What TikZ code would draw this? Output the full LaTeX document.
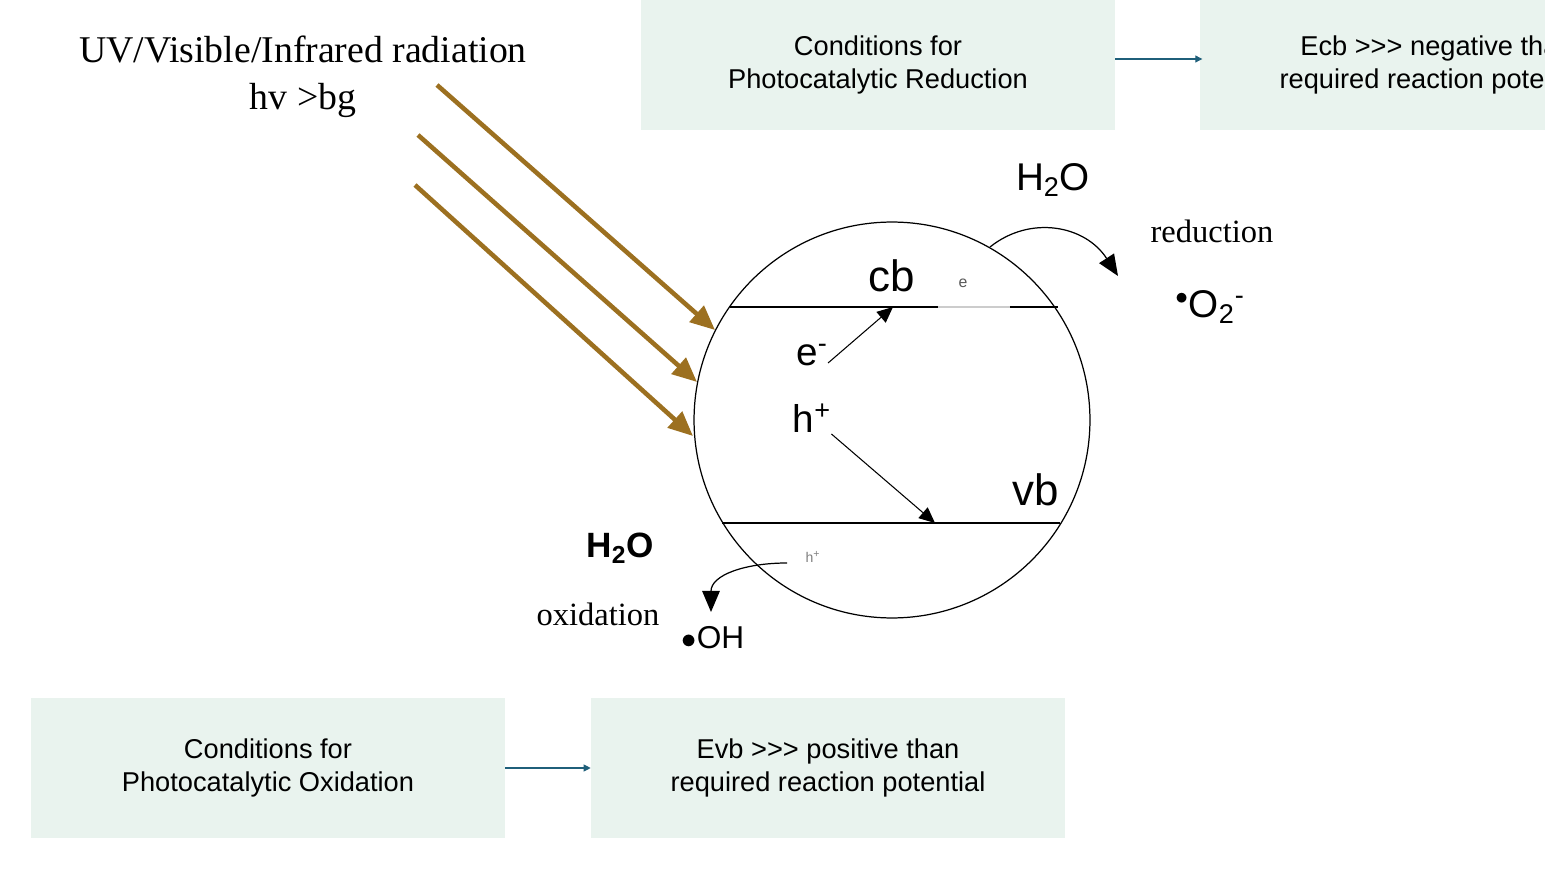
\documentclass[tikz,border=0pt]{standalone}
\usepackage{fontspec}
\setmainfont{Liberation Serif}
\setsansfont{Liberation Sans}[Ligatures=NoCommon]
\usetikzlibrary{arrows.meta,positioning}
\definecolor{boxgreen}{HTML}{E9F3EE}
\definecolor{raygold}{HTML}{9C7020}
\definecolor{linkteal}{HTML}{1F5F7A}
\newcommand{\ggg}{{>}{>}{>}}
\tikzset{
  condbox/.style={fill=boxgreen,draw=none,minimum width=9.48cm,minimum height=2.8cm,align=center,font=\sffamily\fontsize{15.5}{18.7}\selectfont},
  ray/.style={draw=raygold,line width=2.6pt,-{Triangle[length=14pt,width=12pt]}},
  link/.style={draw=linkteal,line width=0.6pt,-{Triangle[length=4pt,width=4pt]}},
  band/.style={line width=1.1pt},
  sflab/.style={font=\sffamily\fontsize{22}{24}\selectfont,inner sep=0pt},
  serlab/.style={font=\fontsize{18.5}{22}\selectfont,inner sep=0pt}
}
\begin{document}
\begin{tikzpicture}[x=0.02cm,y=-0.02cm]
		\useasboundingbox (0,0) rectangle (1545,871);
		\clip (0,0) rectangle (1545,871);
		% condition boxes
		\node[condbox,minimum height=2.62cm] (redcond) at (878,65) {Conditions for\\Photocatalytic Reduction};
		\node[condbox,minimum height=2.62cm] (redreq) at (1437,65) {Ecb \ggg{} negative than\\required reaction potential};
		\node[condbox] (oxcond) at (268,768) {Conditions for\\Photocatalytic Oxidation};
		\node[condbox] (oxreq) at (828,768) {Evb \ggg{} positive than\\required reaction potential};
		\draw[link] (redcond.east) ++(0,-6) -- ++(87,0);
		\draw[link] (oxcond.east) -- (oxreq.west);
		% radiation
		\node[font=\fontsize{21.5}{27}\selectfont,align=center] (light) at (303,77) {UV/Visible/Infrared radiation\\hv >bg};
		\coordinate (r1a) at (437,85); \coordinate (r1b) at (715,330);
		\coordinate (r2a) at (418,135); \coordinate (r2b) at (697,382);
		\coordinate (r3a) at (415,185); \coordinate (r3b) at (693,436);
		\draw[ray] (r1a) -- (r1b);
		\draw[ray] (r2a) -- (r2b);
		\draw[ray] (r3a) -- (r3b);
		% particle and bands
		\node[draw,circle,line width=0.7pt,minimum size=7.92cm,inner sep=0pt] (grain) at (892,420) {};
		\coordinate (cbl) at (730,307); \coordinate (cbm) at (938,307);
		\coordinate (cbn) at (1010,307); \coordinate (cbr) at (1058,307);
		\draw[band] (cbl) -- (cbm);
		\draw[gray!40,line width=0.8pt] (cbm) -- (cbn);
		\draw[band] (cbn) -- (cbr);
		\coordinate (vbl) at (722,523); \coordinate (vbr) at (1060,523);
		\draw[band] (vbl) -- (vbr);
		\node[sflab,font=\sffamily\fontsize{25}{27}\selectfont] (cb) at (892,276) {cb};
		\node[sflab,font=\sffamily\fontsize{9}{10}\selectfont,gray!70!black] (esmall) at (963,283) {e};
		\node[sflab,font=\sffamily\fontsize{25}{27}\selectfont] (vb) at (1036,490) {vb};
		\node[sflab] (elec) at (812,355) {e\textsuperscript{-}};
		\node[sflab] (hole) at (812,418) {h\textsuperscript{+}};
		\coordinate (electip) at (893,307); \coordinate (holetip) at (935,523);
		\draw[line width=0.6pt,-{Triangle[length=9pt,width=8pt]}] (elec.east) ++(0,8) -- (electip);
		\draw[line width=0.6pt,-{Triangle[length=9pt,width=8pt]}] (hole.east) ++(0,16) -- (holetip);
		% reduction side
		\node[sflab] (water1) at (1053,180) {H\textsubscript{2}O};
		\node[serlab] (red) at (1212,231) {reduction};
		\node[sflab] (superox) at (1210,307) {\textsuperscript{$\bullet$}O\textsubscript{2}\textsuperscript{-}};
		\coordinate (reds) at (990,247); \coordinate (rede) at (1118,276);
		\draw[line width=0.7pt,-{Triangle[length=12pt,width=10pt]}] (reds) .. controls (1030,215) and (1085,225) .. (rede);
		% oxidation side
		\node[sflab,font=\sffamily\bfseries\fontsize{20}{22}\selectfont] (water2) at (620,548) {H\textsubscript{2}O};
		\node[serlab] (ox) at (598,614) {oxidation};
		\node[sflab,font=\sffamily\fontsize{18}{20}\selectfont] (hydrox) at (713,638) {$\bullet$OH};
		\node[sflab,font=\sffamily\fontsize{8}{9}\selectfont,gray] (hsmall) at (813,557) {h\textsuperscript{+}};
		\coordinate (oxs) at (787,563); \coordinate (oxe) at (711,612);
		\draw[line width=0.7pt,-{Triangle[length=12pt,width=10pt]}] (oxs) .. controls (745,563) and (711,575) .. (oxe);
		\end{tikzpicture}
\end{document}
